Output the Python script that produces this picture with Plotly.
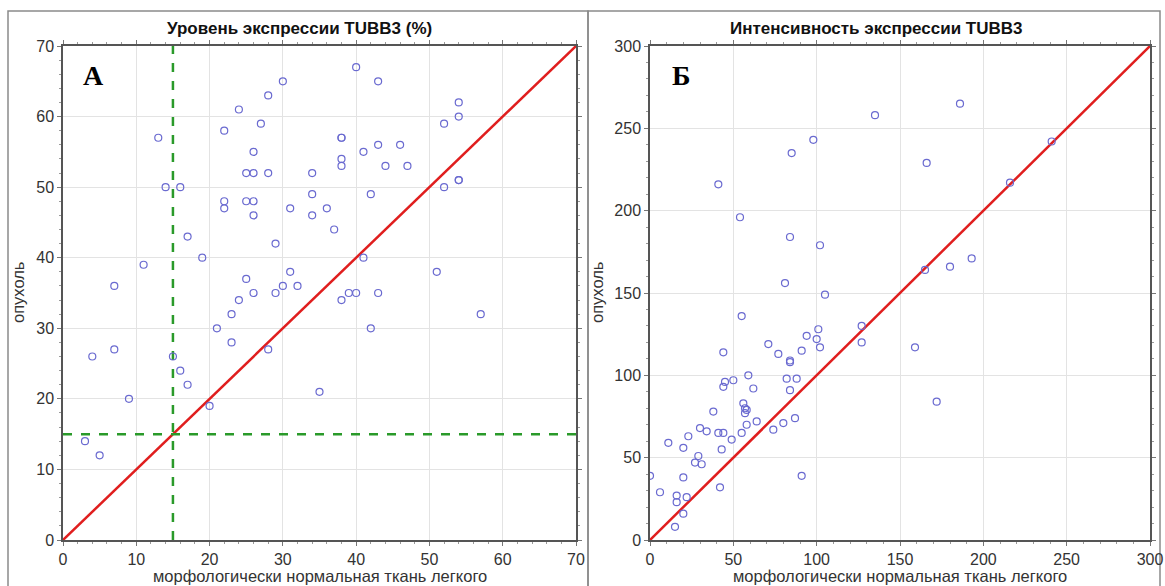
import plotly.graph_objects as go

# Panel А: TUBB3 expression level (%), normal lung tissue vs tumour
level_normal = [3, 5, 4, 7, 7, 9, 11, 13, 14, 16, 15, 16, 17, 17, 19, 20, 21, 22, 22, 22,
                23, 23, 24, 24, 25, 25, 25, 26, 26, 26, 26, 26, 27, 28, 28, 28, 29, 29, 30, 30,
                31, 31, 32, 34, 34, 34, 35, 36, 37, 38, 38, 38, 38, 38, 39, 40, 40, 41, 41, 42,
                42, 43, 43, 43, 44, 46, 47, 51, 52, 52, 54, 54, 54, 54, 57]
level_tumour = [14, 12, 26, 27, 36, 20, 39, 57, 50, 50, 26, 24, 22, 43, 40, 19, 30, 58, 48, 47,
                32, 28, 61, 34, 52, 48, 37, 55, 52, 48, 46, 35, 59, 63, 52, 27, 42, 35, 65, 36,
                47, 38, 36, 52, 49, 46, 21, 47, 44, 57, 57, 54, 53, 34, 35, 67, 35, 55, 40, 49,
                30, 65, 56, 35, 53, 56, 53, 38, 59, 50, 62, 60, 51, 51, 32]
level_cutoff = 15

# Panel Б: TUBB3 expression intensity
intens_normal = [135, 98, 85, 41, 54, 84, 102, 81, 105, 186, 166, 241, 216, 165, 180, 193, 159, 172,
                 55, 127, 101, 94, 100, 127, 71, 102, 91, 44, 77, 84, 84, 59, 50, 82, 88, 45,
                 44, 62, 84, 56, 57, 58, 57, 38, 87, 64, 58, 80, 74, 55, 30, 34, 41, 44,
                 23, 49, 11, 20, 43, 29, 27, 31, 0, 91, 20, 42, 6, 16, 16, 22, 20, 15]
intens_tumour = [258, 243, 235, 216, 196, 184, 179, 156, 149, 265, 229, 242, 217, 164, 166, 171, 117, 84,
                 136, 130, 128, 124, 122, 120, 119, 117, 115, 114, 113, 109, 108, 100, 97, 98, 98, 96,
                 93, 92, 91, 83, 80, 79, 77, 78, 74, 72, 70, 71, 67, 65, 68, 66, 65, 65,
                 63, 61, 59, 56, 55, 51, 47, 46, 39, 39, 38, 32, 29, 27, 23, 26, 16, 8]

level_ticks = list(range(0, 71, 10))
intens_ticks = list(range(0, 301, 50))

W, H = 1165, 586
L0, L1, R0, R1 = 63, 576, 650, 1150
TOP, BOT = 46, 540

def px(x):
    return x / W

def py(y):
    return 1 - y / H

marker = dict(symbol="circle-open", size=7, color="#6a6ad0", line=dict(width=1.2, color="#6a6ad0"))
red = dict(color="#e01e1e", width=2.5)
green = dict(color="#2a9a2a", width=2.5, dash="dash")

fig = go.Figure()
fig.add_trace(go.Scatter(x=[0, 70], y=[0, 70], mode="lines", line=red, xaxis="x", yaxis="y",
                         hoverinfo="skip"))
fig.add_trace(go.Scatter(x=[level_cutoff, level_cutoff], y=[0, 70], mode="lines", line=green,
                         xaxis="x", yaxis="y", hoverinfo="skip"))
fig.add_trace(go.Scatter(x=[0, 70], y=[level_cutoff, level_cutoff], mode="lines", line=green,
                         xaxis="x", yaxis="y", hoverinfo="skip"))
fig.add_trace(go.Scatter(x=level_normal, y=level_tumour, mode="markers", marker=marker,
                         xaxis="x", yaxis="y"))
fig.add_trace(go.Scatter(x=[0, 300], y=[0, 300], mode="lines", line=red, xaxis="x2", yaxis="y2",
                         hoverinfo="skip"))
fig.add_trace(go.Scatter(x=intens_normal, y=intens_tumour, mode="markers", marker=marker,
                         xaxis="x2", yaxis="y2"))

tickfont = dict(family="Liberation Sans Narrow, Arial Narrow, Liberation Sans, sans-serif",
                size=16, color="#333333")
axis_common = dict(showgrid=True, gridcolor="#e3e3e3", gridwidth=1, zeroline=False,
                   showline=True, linecolor="#555555", linewidth=1.5, mirror="ticks",
                   ticks="outside", ticklen=4, tickcolor="#777777", tickfont=tickfont,
                   automargin=False,
                   minor=dict(ticks="outside", ticklen=2, tickcolor="#999999", showgrid=False))

fig.update_layout(
    width=W, height=H, margin=dict(l=0, r=0, t=0, b=0, autoexpand=False),
    paper_bgcolor="white", plot_bgcolor="white", showlegend=False,
    xaxis=dict(domain=[px(L0), px(L1)], range=[0, 70], tickvals=level_ticks,
               anchor="y", minor_dtick=2, **axis_common),
    yaxis=dict(domain=[py(BOT), py(TOP)], range=[0, 70], tickvals=level_ticks,
               anchor="x", minor_dtick=2, **axis_common),
    xaxis2=dict(domain=[px(R0), px(R1)], range=[0, 300], tickvals=intens_ticks,
                anchor="y2", minor_dtick=10, **axis_common),
    yaxis2=dict(domain=[py(BOT), py(TOP)], range=[0, 300], tickvals=intens_ticks,
                anchor="x2", minor_dtick=10, **axis_common),
)

frame = dict(color="#8a8a8a", width=1.5)
fig.add_shape(type="rect", xref="paper", yref="paper", x0=px(8), x1=px(588), y0=py(600), y1=py(11),
              line=frame, layer="below")
fig.add_shape(type="rect", xref="paper", yref="paper", x0=px(588), x1=px(1160), y0=py(600), y1=py(11),
              line=frame, layer="below")

title_font = dict(family="Liberation Sans, Arial, sans-serif", size=17, color="#111111")
label_font = dict(family="Liberation Sans Narrow, Arial Narrow, Liberation Sans, sans-serif",
                  size=16.5, color="#333333")
letter_font = dict(family="Liberation Serif, Times New Roman, serif", size=28, color="#000000")

notes = [
    (px(299), py(28), "<b>Уровень экспрессии TUBB3 (%)</b>", title_font, 0),
    (px(876), py(28), "<b>Интенсивность экспрессии TUBB3</b>", title_font, 0),
    (px((L0 + L1) / 2), py(576), "морфологически нормальная ткань легкого", label_font, 0),
    (px((R0 + R1) / 2), py(576), "морфологически нормальная ткань легкого", label_font, 0),
    (px(18), py((TOP + BOT) / 2), "опухоль", label_font, -90),
    (px(597), py((TOP + BOT) / 2), "опухоль", label_font, -90),
    (px(93), py(75), "<b>А</b>", letter_font, 0),
    (px(681), py(75), "<b>Б</b>", letter_font, 0),
]
for x, y, text, font, ang in notes:
    fig.add_annotation(x=x, y=y, xref="paper", yref="paper", text=text, showarrow=False,
                       font=font, textangle=ang, xanchor="center", yanchor="middle")

fig.write_html("out.html")
